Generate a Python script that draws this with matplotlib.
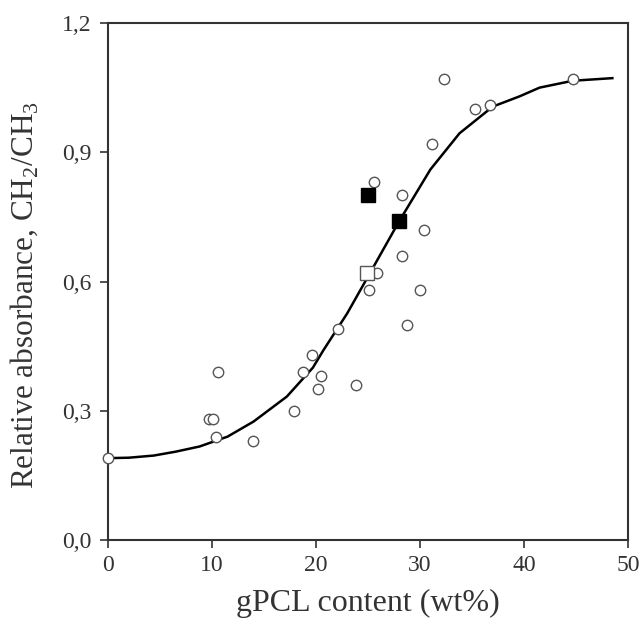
import matplotlib
matplotlib.use("Agg")
import matplotlib.pyplot as plt

plt.rcParams['font.family'] = ['Liberation Serif', 'DejaVu Serif']
plt.rcParams['mathtext.fontset'] = 'custom'
plt.rcParams['mathtext.rm'] = 'Liberation Serif'

# open circles: gPCL content vs relative absorbance
circ_x = [0, 9.7, 10.1, 10.4, 10.6, 13.9, 17.9, 18.75, 19.6, 20.2, 20.5, 22.1, 23.8,
          25.1, 25.6, 25.9, 28.3, 28.3, 28.75, 30.0, 30.4, 31.2, 32.3, 35.3, 36.7, 44.7]
circ_y = [0.19, 0.28, 0.28, 0.24, 0.39, 0.23, 0.30, 0.39, 0.43, 0.35, 0.38, 0.49, 0.36,
          0.58, 0.83, 0.62, 0.80, 0.66, 0.50, 0.58, 0.72, 0.92, 1.07, 1.00, 1.01, 1.07]

# filled squares
fsq_x = [25.0, 28.0]
fsq_y = [0.80, 0.74]

# open square
osq_x = [24.9]
osq_y = [0.62]

# fitted curve
curve_x = [0, 2, 4.4, 6.5, 8.8, 11.5, 14, 17.2, 19.7, 20.7, 23, 25.2, 28, 31, 33.8, 37, 39.6, 41.5, 44.7, 48.5]
curve_y = [0.19, 0.191, 0.196, 0.205, 0.217, 0.24, 0.275, 0.333, 0.40, 0.44, 0.526, 0.62, 0.74, 0.86, 0.944, 1.006, 1.03, 1.05, 1.066, 1.072]

xticks = [0, 10, 20, 30, 40, 50]
yticks = [0.0, 0.3, 0.6, 0.9, 1.2]
ytick_labels = ['0,0', '0,3', '0,6', '0,9', '1,2']

fig = plt.figure(figsize=(6.42, 6.25), dpi=100)
ax = fig.add_axes([108/642, 1-540/625, 520/642, 517/625])

ax.plot(curve_x, curve_y, color='black', lw=1.8, zorder=2)
ax.plot(circ_x, circ_y, 'o', mfc='white', mec='#555555', ms=7.5, mew=1.0, zorder=3, clip_on=False)
ax.plot(osq_x, osq_y, 's', mfc='white', mec='#555555', ms=10.5, mew=1.0, zorder=3)
ax.plot(fsq_x, fsq_y, 's', mfc='black', mec='black', ms=10.5, zorder=4)

ax.set_xlim(0, 50)
ax.set_ylim(0, 1.2)
ax.set_xticks(xticks)
ax.set_yticks(yticks)
ax.set_yticklabels(ytick_labels)
ax.tick_params(direction='out', length=6, width=1.2, labelsize=17,
               colors='#333333', labelcolor='#333333')
ax.tick_params(axis='y', pad=6)
ax.tick_params(axis='x', pad=5)
for s in ax.spines.values():
    s.set_linewidth(1.5)
    s.set_color('#333333')

ax.set_xlabel('gPCL content (wt%)', fontsize=23, color='#333333', labelpad=9)
ax.set_ylabel(r'Relative absorbance, CH$_2$/CH$_3$', fontsize=22.5, color='#333333')
ax.yaxis.set_label_coords(-0.13, 0.474)

fig.savefig('out.png', dpi=100)
